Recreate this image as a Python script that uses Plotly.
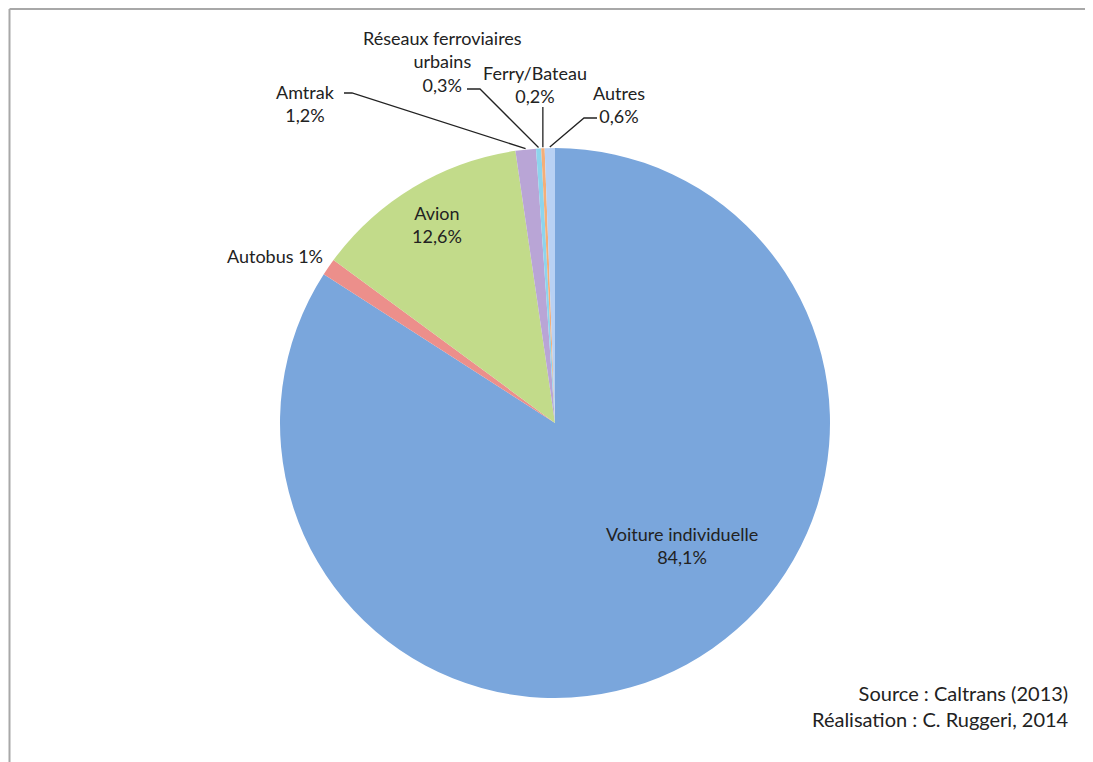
import math
import plotly.graph_objects as go

# ---- data ----
categories = ["Voiture individuelle", "Autobus", "Avion", "Amtrak",
              "Réseaux ferroviaires urbains", "Ferry/Bateau", "Autres"]
values = [84.1, 1.0, 12.6, 1.2, 0.3, 0.2, 0.6]
value_labels = ["84,1%", "1%", "12,6%", "1,2%", "0,3%", "0,2%", "0,6%"]
colors = ["#7aa6dc", "#ec8f8b", "#c2db8a", "#b9a5d6", "#8dd4ec", "#f5ae78", "#b8d1f4"]

OFF = 8  # page body margin
W, H = 1093 - OFF, 762 - OFF
CX, CY, R = 555, 423, 275  # pie centre / radius in window pixels
FONT = "Lato, 'Open Sans', sans-serif"


def px(x):
    return (x - OFF) / W


def py(y):
    return 1 - (y - OFF) / H


fig = go.Figure(go.Pie(
    labels=categories, values=values, sort=False, direction="clockwise",
    rotation=0, textinfo="none", hoverinfo="label+percent",
    marker=dict(colors=colors, line=dict(width=0)),
    domain=dict(x=[px(CX - R), px(CX + R)], y=[py(CY + R), py(CY - R)]),
    showlegend=False,
))

# slice mid-angles from data
total = sum(values)
mids = []
cum = 0
for v in values:
    mids.append((cum + v / 2) / total * 360)
    cum += v


def edge(i, extra=1):
    a = math.radians(mids[i])
    return CX + (R + extra) * math.sin(a), CY - (R + extra) * math.cos(a)


annotations = []
shapes = []


def text(x, y, s, size=18):
    annotations.append(dict(x=px(x), y=py(y), xref="paper", yref="paper", text=s,
                            showarrow=False, font=dict(family=FONT, size=size, color="#222"),
                            align="center", xanchor="center", yanchor="middle"))


def path(points):
    d = "M " + " L ".join(f"{px(x)},{py(y)}" for x, y in points)
    shapes.append(dict(type="path", path=d, xref="paper", yref="paper",
                       line=dict(color="#222", width=1.3)))


# inside labels
text(682, 545, f"{categories[0]}<br>{value_labels[0]}")
text(437, 225, f"{categories[2]}<br>{value_labels[2]}")
text(275, 256, f"{categories[1]} {value_labels[1]}")

# outside labels with leaders
text(305, 103, f"{categories[3]}<br>{value_labels[3]}")
path([(344, 93), (352, 93), edge(3)])

text(442, 61, "Réseaux ferroviaires<br>urbains<br>" + value_labels[4])
path([(467, 89), (480, 89), edge(4)])

text(535, 84, f"{categories[5]}<br>{value_labels[5]}")
path([(edge(5)[0], 107), edge(5)])

text(619, 105, f"{categories[6]}<br>{value_labels[6]}")
path([(597, 118), (584, 118), edge(6)])

# source
annotations.append(dict(x=px(1071), y=py(706), xref="paper", yref="paper",
                        text="Source : Caltrans (2013)<br>Réalisation : C. Ruggeri, 2014",
                        showarrow=False, align="right", xanchor="right", yanchor="middle",
                        font=dict(family=FONT, size=20, color="#222")))

# frame lines (top and left)
TOP = 9
shapes.append(dict(type="line", xref="paper", yref="paper", x0=px(9.5), x1=1,
                   y0=py(TOP), y1=py(TOP), line=dict(color="#a8a8a8", width=2)))
shapes.append(dict(type="line", xref="paper", yref="paper", x0=px(9.5), x1=px(9.5),
                   y0=py(TOP), y1=0, line=dict(color="#a8a8a8", width=2)))

fig.update_layout(width=W, height=H, margin=dict(l=0, r=0, t=0, b=0),
                  paper_bgcolor="white", plot_bgcolor="white",
                  annotations=annotations, shapes=shapes)

fig.write_html("out.html")
